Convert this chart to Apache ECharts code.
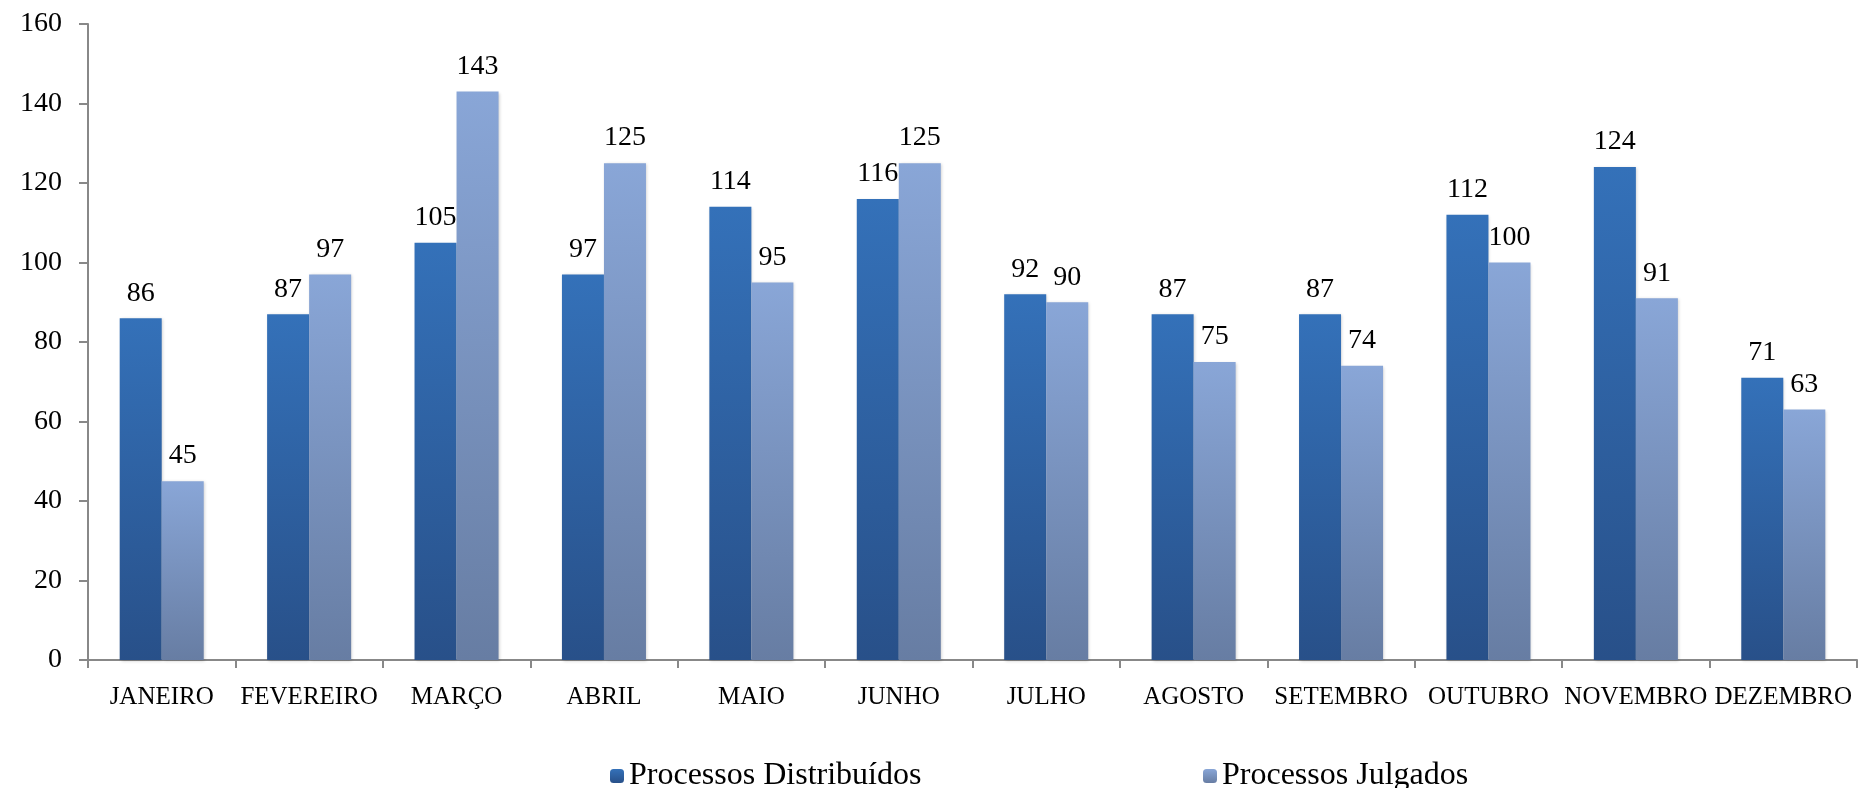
<!DOCTYPE html>
<html>
	<head>
		<meta charset="UTF-8">
		<title>Processos por mês</title>
		<script type="text/javascript" src="https://cdn.jsdelivr.net/npm/echarts@6/dist/echarts.min.js"></script>
	</head>
	<body style="margin: 0;">
		<div id="chart" style="width: 1860px;height: 788px;"></div>
	<script>
		var meses = ["JANEIRO", "FEVEREIRO", "MARÇO", "ABRIL", "MAIO", "JUNHO", "JULHO", "AGOSTO", "SETEMBRO", "OUTUBRO", "NOVEMBRO", "DEZEMBRO"];
		var distribuidos = [86, 87, 105, 97, 114, 116, 92, 87, 87, 112, 124, 71];
		var julgados = [45, 97, 143, 125, 95, 125, 90, 75, 74, 100, 91, 63];
		var yTicks = {min: 0, max: 160, interval: 20};

		var fonte = "'Liberation Serif', 'DejaVu Serif', serif";

		function gradiente(topo, base) {
			return new echarts.graphic.LinearGradient(0, 0, 0, 1, [
				{offset: 0, color: topo},
				{offset: 1, color: base}
			]);
		}

		var rotulo = {
			show: true,
			position: 'top',
			distance: 11,
			color: '#000',
			fontFamily: fonte,
			fontSize: 28
		};

		var option = {
			animation: false,
			backgroundColor: '#fff',
			grid: {left: 88, right: 3, top: 24, bottom: 128},
			legend: [{
				left: 605, top: 755,
				itemWidth: 14, itemHeight: 14,
				data: ['Processos Distribuídos'],
				textStyle: {fontFamily: fonte, fontSize: 32, color: '#000'}
			}, {
				left: 1198, top: 755,
				itemWidth: 14, itemHeight: 14,
				data: ['Processos Julgados'],
				textStyle: {fontFamily: fonte, fontSize: 32, color: '#000'}
			}],
			xAxis: {
				type: 'category',
				data: meses,
				axisLine: {lineStyle: {color: '#888', width: 2}},
				axisTick: {show: true, length: 8, lineStyle: {color: '#888', width: 2}},
				axisLabel: {color: '#000', fontFamily: fonte, fontSize: 25, margin: 25, interval: 0}
			},
			yAxis: {
				type: 'value',
				min: yTicks.min,
				max: yTicks.max,
				interval: yTicks.interval,
				splitLine: {show: false},
				axisLine: {show: true, lineStyle: {color: '#888', width: 2}},
				axisTick: {show: true, length: 9, lineStyle: {color: '#888', width: 2}},
				axisLabel: {color: '#000', fontFamily: fonte, fontSize: 28, margin: 26}
			},
			series: [{
				name: 'Processos Distribuídos',
				type: 'bar',
				data: distribuidos,
				barGap: '0%',
				barCategoryGap: '43%',
				itemStyle: {
					color: gradiente('#3471b9', '#285089'),
					shadowColor: 'rgba(0,0,0,0.2)', shadowBlur: 3, shadowOffsetX: 1, shadowOffsetY: 1
				},
				label: rotulo
			}, {
				name: 'Processos Julgados',
				type: 'bar',
				data: julgados,
				itemStyle: {
					color: gradiente('#89a6d7', '#677da3'),
					shadowColor: 'rgba(0,0,0,0.2)', shadowBlur: 3, shadowOffsetX: 1, shadowOffsetY: 1
				},
				label: rotulo
			}]
		};

		var chart = echarts.init(document.getElementById("chart"));
		chart.setOption(option);
	</script>
	</body>
</html>
